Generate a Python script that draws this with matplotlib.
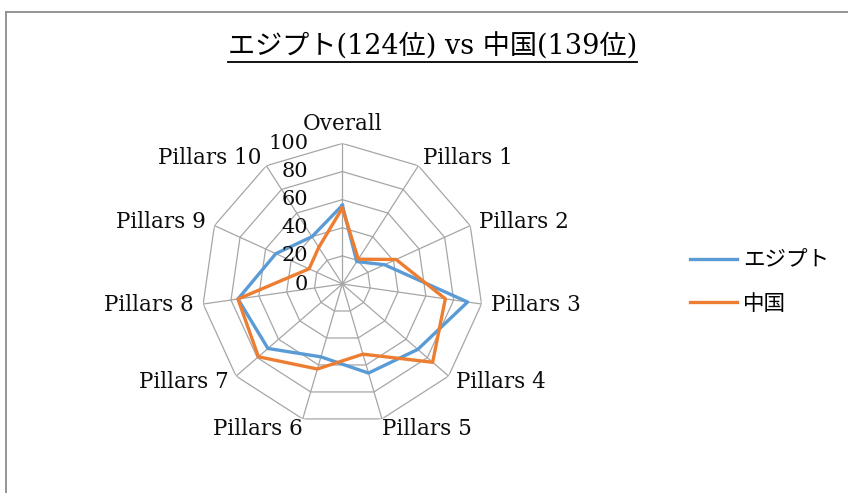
import numpy as np
import matplotlib
matplotlib.use("Agg")
import matplotlib.pyplot as plt
from matplotlib.lines import Line2D
from matplotlib.transforms import ScaledTranslation

categories = ["Overall", "Pillars 1", "Pillars 2", "Pillars 3", "Pillars 4",
              "Pillars 5", "Pillars 6", "Pillars 7", "Pillars 8", "Pillars 9",
              "Pillars 10"]
egypt = [56, 19, 33, 90, 71, 66, 54, 70, 75, 52, 40]
china = [54, 21, 42, 74, 85, 52, 63, 79, 75, 26, 31]
series_names = ["エジプト", "中国"]
r_ticks = [0, 20, 40, 60, 80, 100]
title = "エジプト(124位) vs 中国(139位)"

blue = "#5B9BD5"
orange = "#ED7D31"
grid_col = "#A6A6A6"
serif = ["DejaVu Serif", "Noto Sans CJK JP"]
cjk = ["Noto Sans CJK JP", "DejaVu Sans"]
txt_col = "#0d0d0d"

fig = plt.figure(figsize=(8.48, 4.93), dpi=100)
ax = fig.add_axes([0.2379, 0.1387, 0.3316, 0.5704], projection="polar")
ax.set_theta_offset(np.pi / 2)
ax.set_theta_direction(-1)
ax.set_ylim(0, 100)
ax.grid(False)
ax.spines["polar"].set_visible(False)
ax.set_xticks([])
ax.set_yticks([])
ax.patch.set_alpha(0)

angles = np.linspace(0, 2 * np.pi, len(categories), endpoint=False)
closed = np.append(angles, angles[0])

# polygon gridlines and spokes
for v in r_ticks[1:]:
    ax.plot(closed, [v] * len(closed), color=grid_col, lw=0.9, zorder=1)
for a in angles:
    ax.plot([a, a], [0, 100], color=grid_col, lw=0.9, zorder=1)

# series
for vals, col, name in [(egypt, blue, series_names[0]), (china, orange, series_names[1])]:
    ax.plot(closed, vals + vals[:1], color=col, lw=2.4, label=name,
            solid_joinstyle="round", zorder=3)

# category labels
for a, lab in zip(angles, categories):
    s, c = np.sin(a), np.cos(a)
    ha = "left" if s > 0.1 else ("right" if s < -0.1 else "center")
    if c > 0.9:
        va, r = "bottom", 106
    elif c < -0.9:
        va, r = "top", 99
    else:
        va, r = "center", 106.5
    ax.text(a, r, lab, ha=ha, va=va, fontsize=15.5, family=serif, color=txt_col)

# radial tick labels
off = ax.transData + ScaledTranslation(-0.34, 0, fig.dpi_scale_trans)
for v in r_ticks:
    ax.text(0, v, str(v), transform=off, ha="right", va="center",
            fontsize=15, family=serif, color=txt_col)

# legend
fig.legend(loc="center left", bbox_to_anchor=(690 / 848, 0.428), frameon=False,
           borderaxespad=0, borderpad=0, handlelength=2.2, handletextpad=0.25,
           labelspacing=1.0, prop={"family": cjk, "size": 15.5})

# title with underline
t = fig.text(0.51, 1 - 47 / 493, title, ha="center", va="center",
             fontsize=19.5, family=serif, color="#000000")
fig.canvas.draw()
bb = t.get_window_extent().transformed(fig.transFigure.inverted())
fig.add_artist(Line2D([bb.x0, bb.x1], [bb.y0 - 0.003, bb.y0 - 0.003],
                      color="#000000", lw=1.3))

# chart border (top and left only visible)
bc = "#8C8C8C"
fig.add_artist(Line2D([6 / 848, 6 / 848], [0, 1 - 12 / 493], color=bc, lw=1.3))
fig.add_artist(Line2D([6 / 848, 1], [1 - 12 / 493, 1 - 12 / 493], color=bc, lw=1.3))

fig.savefig("out.png", dpi=100)
